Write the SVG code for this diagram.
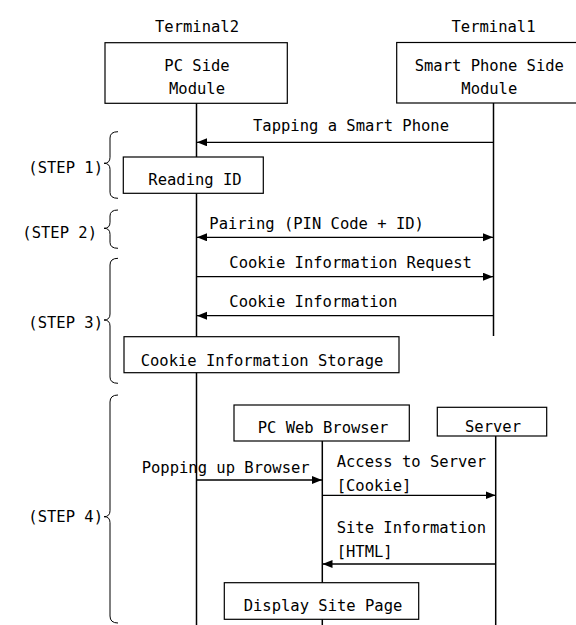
<svg xmlns="http://www.w3.org/2000/svg" width="576" height="625" viewBox="0 0 576 625">
<style>
text{font-family:"DejaVu Sans Mono","Liberation Mono",monospace;font-size:15.5px;fill:#000}
.c{text-anchor:middle}
.e{text-anchor:end}
.box{fill:#fff;stroke:#000;stroke-width:1.2}
.life{stroke:#000;stroke-width:1.5;fill:none}
.msg{stroke:#000;stroke-width:1.3;fill:none;marker-end:url(#ah)}
.brace{fill:none;stroke:#000;stroke-width:1}
</style>
<defs>
<marker id="ah" markerUnits="userSpaceOnUse" markerWidth="11" markerHeight="9" refX="10" refY="4" orient="auto-start-reverse">
<path d="M0,0 L10,4 L0,8 z" fill="#000"/>
</marker>
</defs>
<rect width="576" height="625" fill="#fff"/>

<g id="lifelines">
<line class="life" x1="196.5" y1="103" x2="196.5" y2="625"/>
<line class="life" x1="493.5" y1="103" x2="493.5" y2="336"/>
<line class="life" x1="322.3" y1="441" x2="322.3" y2="625"/>
<line class="life" x1="495.7" y1="436" x2="495.7" y2="625"/>
</g>

<g id="terminal2">
<text class="c" x="197" y="32">Terminal2</text>
<rect class="box" x="105" y="42.7" width="182.3" height="60.6"/>
<text class="c" x="197" y="70.5">PC Side</text>
<text class="c" x="197" y="94">Module</text>
</g>

<g id="terminal1">
<text class="c" x="493.5" y="32">Terminal1</text>
<rect class="box" x="396.7" y="42.5" width="200" height="60.5"/>
<text class="c" x="489.3" y="70.5">Smart Phone Side</text>
<text class="c" x="489.3" y="94">Module</text>
</g>

<g id="reading-id">
<rect class="box" x="123.3" y="157" width="140" height="36.3"/>
<text class="c" x="195" y="185">Reading ID</text>
</g>

<g id="cookie-storage">
<rect class="box" x="124" y="336.7" width="275" height="36"/>
<text class="c" x="262" y="365.5">Cookie Information Storage</text>
</g>

<g id="pc-web-browser">
<rect class="box" x="234" y="405" width="175.3" height="36"/>
<text class="c" x="323" y="433">PC Web Browser</text>
</g>

<g id="server">
<rect class="box" x="437.3" y="407.3" width="109.4" height="28.7"/>
<text class="c" x="493" y="431.5">Server</text>
</g>

<g id="display-site-page">
<rect class="box" x="224.3" y="582.7" width="194.4" height="36.6"/>
<text class="c" x="323" y="610.7">Display Site Page</text>
</g>

<g id="connectors">
<line class="msg" x1="493.5" y1="142.3" x2="197" y2="142.3"/>
<line class="msg" x1="197" y1="237.3" x2="493" y2="237.3" style="marker-start:url(#ah)"/>
<line class="msg" x1="196.5" y1="276.7" x2="493" y2="276.7"/>
<line class="msg" x1="493.5" y1="315.7" x2="197" y2="315.7"/>
<line class="msg" x1="196.5" y1="480" x2="322" y2="480"/>
<line class="msg" x1="322.3" y1="495.3" x2="495.5" y2="495.3"/>
<line class="msg" x1="495.7" y1="564" x2="322.5" y2="564"/>
</g>

<g id="labels">
<text class="c" x="351" y="131">Tapping a Smart Phone</text>
<text x="209.3" y="229">Pairing (PIN Code + ID)</text>
<text x="229.3" y="268">Cookie Information Request</text>
<text x="229.3" y="306.7">Cookie Information</text>
<text x="141.7" y="472.7">Popping up Browser</text>
<text x="336.7" y="466.7">Access to Server</text>
<text x="336.7" y="490.7">[Cookie]</text>
<text x="336.7" y="532.7">Site Information</text>
<text x="336.7" y="557.3">[HTML]</text>
</g>

<g id="step1">
<path class="brace" d="M118,131.7 Q110,131.7 110,138 L110,157.3 Q110,163.3 104,163.3 Q110,163.3 110,169.3 L110,192.3 Q110,198.3 118,198.3"/>
<text class="e" x="103" y="173.3">(STEP 1)</text>
</g>
<g id="step2">
<path class="brace" d="M118,210 Q110,210 110,216 L110,222.3 Q110,228.3 104,228.3 Q110,228.3 110,234.3 L110,242.3 Q110,248.3 118,248.3"/>
<text class="e" x="97" y="238.3">(STEP 2)</text>
</g>
<g id="step3">
<path class="brace" d="M118,258.3 Q110,258.3 110,265 L110,314 Q110,320 104,320 Q110,320 110,326 L110,377 Q110,383.3 118,383.3"/>
<text class="e" x="103" y="328">(STEP 3)</text>
</g>
<g id="step4">
<path class="brace" d="M118,395 Q110,395 110,402 L110,510.7 Q110,516.7 104,516.7 Q110,516.7 110,522.7 L110,616 Q110,623 118,623"/>
<text class="e" x="103" y="521.7">(STEP 4)</text>
</g>
</svg>
